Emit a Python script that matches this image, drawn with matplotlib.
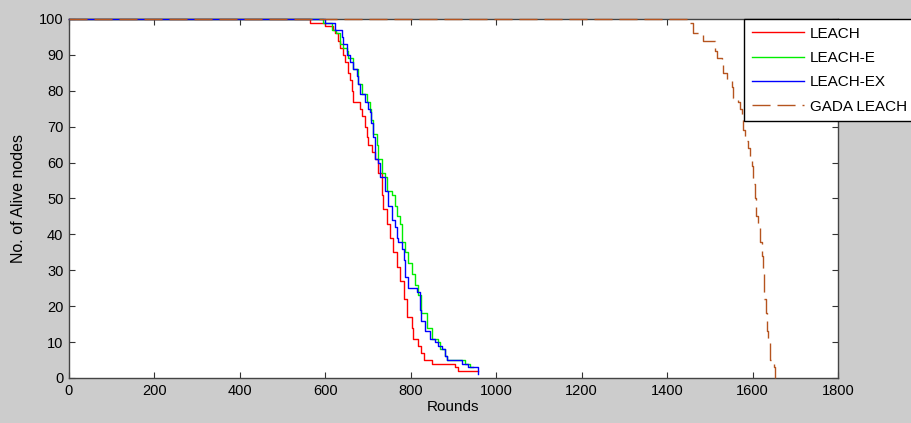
import matplotlib
matplotlib.use('Agg')
import matplotlib.pyplot as plt

# rounds at which the alive count changes, and the new count (step data)
leach_rounds = [0, 564, 599, 618, 623, 630, 634, 642, 646, 653, 658, 662, 664, 681, 685, 693,
                697, 700, 709, 716, 723, 732, 736, 744, 751, 759, 767, 775, 783, 791, 802, 806,
                816, 825, 830, 849, 904, 910, 958]
leach_alive = [100, 99, 98, 97, 96, 94, 92, 90, 88, 85, 83, 80, 77, 75, 73, 70,
               67, 65, 63, 61, 57, 51, 47, 43, 39, 35, 31, 27, 22, 17, 14, 11,
               9, 7, 5, 4, 3, 2, 2]

leach_e_rounds = [0, 595, 615, 626, 634, 642, 650, 654, 665, 677, 685, 697, 704, 708, 712, 720,
                  723, 732, 740, 744, 755, 763, 767, 775, 779, 787, 794, 802, 810, 817, 825, 837,
                  849, 863, 868, 880, 884, 927, 939, 945]
leach_e_alive = [100, 99, 97, 96, 93, 92, 91, 89, 86, 82, 79, 77, 75, 72, 68, 65,
                 61, 57, 56, 52, 51, 48, 45, 43, 38, 35, 32, 29, 26, 23, 18, 14,
                 11, 10, 8, 6, 5, 4, 3, 3]

leach_ex_rounds = [0, 599, 623, 639, 642, 650, 658, 665, 673, 677, 681, 693, 700, 704, 708, 712,
                   716, 723, 728, 740, 747, 755, 763, 767, 770, 779, 783, 787, 794, 814, 821, 825,
                   833, 845, 857, 863, 872, 880, 884, 920, 934, 958]
leach_ex_alive = [100, 99, 97, 95, 93, 90, 88, 86, 84, 82, 79, 77, 75, 74, 71, 67,
                  61, 60, 56, 52, 48, 44, 42, 39, 38, 36, 33, 28, 25, 24, 19, 16,
                  13, 11, 10, 9, 8, 6, 5, 4, 3, 1]

gada_rounds = [0, 1454, 1461, 1484, 1512, 1517, 1528, 1531, 1540, 1552, 1554, 1566, 1571, 1575,
               1578, 1582, 1589, 1594, 1599, 1601, 1606, 1608, 1613, 1617, 1622, 1624, 1627,
               1631, 1634, 1636, 1641, 1650, 1653]
gada_alive = [100, 99, 96, 94, 91, 89, 88, 85, 83, 81, 78, 77, 75, 72,
              69, 66, 64, 61, 59, 54, 50, 45, 42, 38, 34, 30, 22,
              18, 13, 10, 5, 3, 0]

x_ticks = [0, 200, 400, 600, 800, 1000, 1200, 1400, 1600, 1800]
y_ticks = [0, 10, 20, 30, 40, 50, 60, 70, 80, 90, 100]

plt.rcParams['font.family'] = ['Liberation Sans', 'DejaVu Sans']

fig = plt.figure(figsize=(9.11, 4.23), dpi=100, facecolor='#cccccc')
ax = fig.add_axes([0.0757, 0.1064, 0.8442, 0.8487])
ax.set_facecolor('white')

ax.plot(leach_rounds, leach_alive, drawstyle='steps-post', color='#ff0000', lw=1.0,
        label='LEACH', clip_on=False, zorder=3)
ax.plot(leach_e_rounds, leach_e_alive, drawstyle='steps-post', color='#00ee00', lw=1.0,
        label='LEACH-E', clip_on=False, zorder=3)
ax.plot(leach_ex_rounds, leach_ex_alive, drawstyle='steps-post', color='#0000ff', lw=1.0,
        label='LEACH-EX', clip_on=False, zorder=3)
ax.plot(gada_rounds, gada_alive, drawstyle='steps-post', color='#b5541f', lw=1.0,
        dashes=(13, 5), label='GADA LEACH', clip_on=False, zorder=3)

ax.set_xlim(0, 1800)
ax.set_ylim(0, 100)
ax.set_xticks(x_ticks)
ax.set_yticks(y_ticks)
ax.tick_params(direction='in', length=4, width=0.8, color='#333333', labelsize=10.5,
               top=True, right=True, pad=4)
for s in ax.spines.values():
    s.set_color('#444444')
    s.set_linewidth(1.0)

ax.set_xlabel('Rounds', fontsize=11, labelpad=2)
ax.set_ylabel('No. of Alive nodes', fontsize=11.5, labelpad=9)

leg = ax.legend(loc='upper left', bbox_to_anchor=(0.8778, 0.72, 0.2185, 0.28),
                mode='expand', fontsize=11, frameon=True, fancybox=False, framealpha=1,
                handlelength=3.4, labelspacing=0.68, borderaxespad=0, borderpad=0.5,
                handletextpad=0.4)
leg.get_frame().set_edgecolor('black')
leg.get_frame().set_linewidth(1.0)
leg.set_zorder(5)
leg.set_clip_on(False)

fig.savefig('out.png', dpi=100, facecolor=fig.get_facecolor())
